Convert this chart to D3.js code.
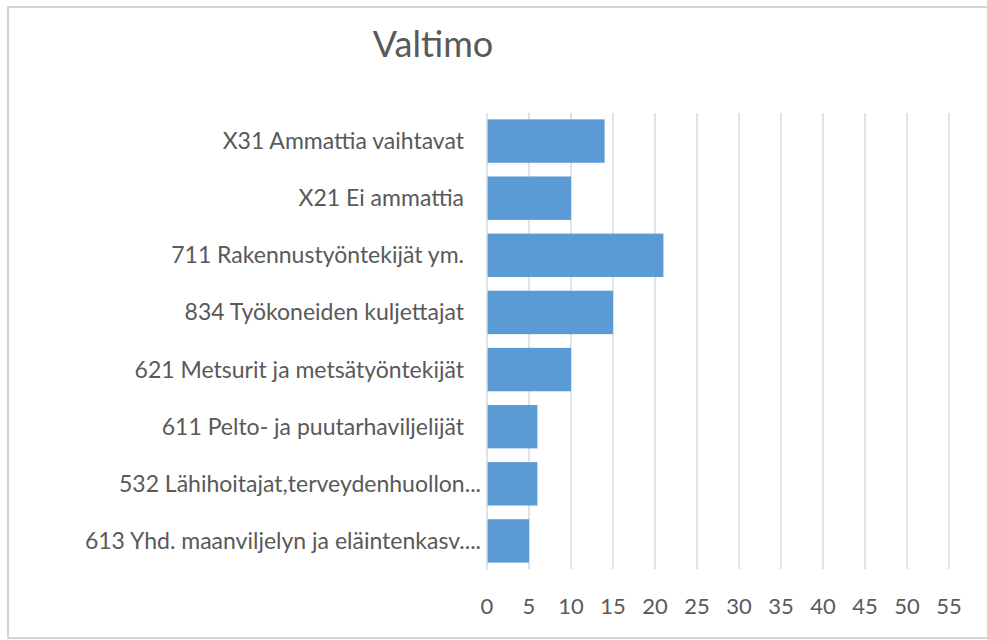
<!DOCTYPE html>
<html>
<head>
<meta charset="utf-8">
<script src="https://cdn.jsdelivr.net/npm/d3@7"></script>
<style>
  html, body { margin: 0; padding: 0; background: #ffffff; overflow: hidden; }
  svg { display: block; }
</style>
</head>
<body>
<svg id="chart" width="987" height="640"></svg>
<script>
const title = "Valtimo";
const categories = [
  "X31 Ammattia vaihtavat",
  "X21 Ei ammattia",
  "711 Rakennustyöntekijät ym.",
  "834 Työkoneiden kuljettajat",
  "621 Metsurit ja metsätyöntekijät",
  "611 Pelto- ja puutarhaviljelijät",
  "532 Lähihoitajat,terveydenhuollon...",
  "613 Yhd. maanviljelyn ja eläintenkasv...."
];
const values = [14, 10, 21, 15, 10, 6, 6, 5];
const tickValues = [0, 5, 10, 15, 20, 25, 30, 35, 40, 45, 50, 55];

const svg = d3.select("#chart");
const fontFamily = "Lato, 'Open Sans', sans-serif";
const textColor = "#595959";
const gridColor = "#d9d9d9";
const barColor = "#5b9bd5";

// chart border
svg.append("rect")
  .attr("x", 8).attr("y", 7)
  .attr("width", 1000).attr("height", 631)
  .attr("fill", "#fff")
  .attr("stroke", "#d4d4d4")
  .attr("stroke-width", 2);

const x = d3.scaleLinear().domain([0, 55]).range([487, 949]);
const y = d3.scaleBand().domain(categories).range([112.5, 569.5])
  .paddingInner(0.24).paddingOuter(0.12);

// gridlines
svg.append("g").selectAll("line")
  .data(tickValues.filter(t => t > 0))
  .join("line")
  .attr("x1", d => x(d)).attr("x2", d => x(d))
  .attr("y1", 113).attr("y2", 569)
  .attr("stroke", gridColor).attr("stroke-width", 1.5);

// bars
svg.append("g").selectAll("rect")
  .data(values)
  .join("rect")
  .attr("x", x(0))
  .attr("y", (d, i) => y(categories[i]))
  .attr("width", d => x(d) - x(0))
  .attr("height", y.bandwidth())
  .attr("fill", barColor);

// category axis line
svg.append("line")
  .attr("x1", x(0)).attr("x2", x(0))
  .attr("y1", 113).attr("y2", 570)
  .attr("stroke", gridColor).attr("stroke-width", 1.5);

// category labels
svg.append("g").selectAll("text")
  .data(categories)
  .join("text")
  .attr("x", d => d.endsWith("...") ? 481 : 464)
  .attr("y", d => y(d) + y.bandwidth() / 2)
  .attr("dy", "0.35em")
  .attr("text-anchor", "end")
  .attr("font-family", fontFamily)
  .attr("font-size", 23)
  .attr("fill", textColor)
  .text(d => d);

// value tick labels
svg.append("g").selectAll("text")
  .data(tickValues)
  .join("text")
  .attr("x", d => x(d))
  .attr("y", 606)
  .attr("dy", "0.35em")
  .attr("text-anchor", "middle")
  .attr("font-family", fontFamily)
  .attr("font-size", 22)
  .attr("fill", textColor)
  .text(d => d);

// title
svg.append("text")
  .attr("x", 433).attr("y", 57)
  .attr("text-anchor", "middle")
  .attr("font-family", fontFamily)
  .attr("font-size", 36)
  .attr("fill", textColor)
  .text(title);
</script>
</body>
</html>
